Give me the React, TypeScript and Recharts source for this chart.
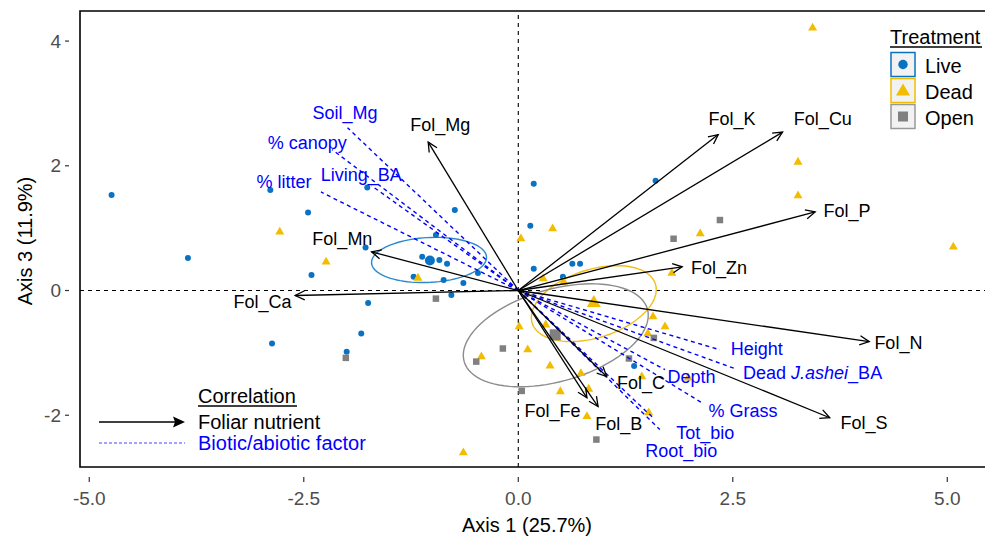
import React from "react";
import {
  ScatterChart,
  Scatter,
  XAxis,
  YAxis,
  ReferenceLine,
  ReferenceArea,
} from "recharts";

const FONT = "'Liberation Sans', Arial, Helvetica, sans-serif";

const xDomain: [number, number] = [-5.108, 5.451];
const yDomain: [number, number] = [-2.83, 4.482];
const xTicks = [-5, -2.5, 0, 2.5, 5];
const yTicks = [-2, 0, 2, 4];

// site scores (axis 1, axis 3)
const livePoints = [
  { x: -4.74, y: 1.53 }, { x: -3.85, y: 0.52 }, { x: -2.89, y: 1.61 },
  { x: -2.45, y: 1.25 }, { x: -2.41, y: 0.25 }, { x: -1.76, y: 1.65 },
  { x: -1.78, y: 0.69 }, { x: -1.75, y: -0.2 }, { x: -1.83, y: -0.69 },
  { x: -2.0, y: -0.98 }, { x: -2.87, y: -0.85 }, { x: -0.74, y: 1.29 },
  { x: -0.96, y: 0.89 }, { x: -1.12, y: 0.54 }, { x: -0.92, y: 0.49 },
  { x: -0.83, y: 0.43 }, { x: -1.22, y: 0.22 }, { x: -0.87, y: 0.17 },
  { x: -0.64, y: 0.12 }, { x: -0.47, y: 0.28 }, { x: -0.78, y: -0.07 },
  { x: 0.18, y: 1.71 }, { x: 0.14, y: 1.04 }, { x: 0.18, y: 0.35 },
  { x: 0.63, y: 0.43 }, { x: 0.72, y: 0.43 }, { x: 0.52, y: 0.22 },
  { x: 1.6, y: 1.76 }, { x: 1.35, y: -1.21 },
];
const deadPoints = [
  { x: 3.43, y: 4.21 }, { x: 3.26, y: 2.06 }, { x: 3.26, y: 1.52 },
  { x: 5.07, y: 0.7 }, { x: 2.12, y: 0.91 }, { x: 1.79, y: 0.28 },
  { x: 0.4, y: 0.99 }, { x: 0.03, y: 0.83 }, { x: 0.29, y: 0.19 },
  { x: 0.53, y: 0.14 }, { x: -2.78, y: 0.94 }, { x: -2.24, y: 0.46 },
  { x: -1.17, y: 0.2 }, { x: 0.01, y: -0.58 }, { x: 0.32, y: -0.55 },
  { x: 0.11, y: -0.95 }, { x: -0.43, y: -1.06 }, { x: 0.37, y: -1.21 },
  { x: 0.49, y: -1.62 }, { x: 0.73, y: -1.33 }, { x: 0.82, y: -1.58 },
  { x: 0.8, y: -2.02 }, { x: 1.52, y: -1.96 }, { x: 1.57, y: -0.42 },
  { x: 1.71, y: -0.58 }, { x: 1.51, y: -0.69 }, { x: 1.44, y: -1.38 },
  { x: 1.98, y: -1.4 }, { x: -0.64, y: -2.6 },
];
const openPoints = [
  { x: 1.81, y: 0.83 }, { x: 2.35, y: 1.13 }, { x: -0.96, y: -0.13 },
  { x: -2.01, y: -1.08 }, { x: -0.18, y: -0.93 }, { x: -0.49, y: -1.14 },
  { x: 0.04, y: -1.61 }, { x: 1.29, y: -1.09 }, { x: 1.58, y: -0.76 },
  { x: 0.91, y: -2.39 },
];
const liveCentroid = [{ x: -1.03, y: 0.48 }];
const deadCentroid = [{ x: 0.88, y: -0.2 }];
const openCentroid = [{ x: 0.43, y: -0.71 }];

// group ellipses: centre and two conjugate semi-axes
const ellipseCentre = [[-1.04, 0.49], [0.88, -0.21], [0.437, -0.718]];
const ellipseAxisU = [[0.67, 0.04], [0.728, 0.224], [1.078, 0.32]];
const ellipseAxisV = [[0, 0.36], [0, 0.566], [0, 0.761]];
const ellipseColors = ["#2b88cf", "#f0bf1a", "#8c8c8c"];

// foliar nutrient correlation vectors
const nutrientNames = [
  "Fol_Mg", "Fol_Mn", "Fol_Ca", "Fol_K", "Fol_Cu", "Fol_P",
  "Fol_Zn", "Fol_N", "Fol_S", "Fol_C", "Fol_Fe", "Fol_B",
];
const nutrientTips = [
  [-1.05, 2.38], [-1.71, 0.62], [-2.6, -0.08], [2.33, 2.5], [3.08, 2.54], [3.46, 1.26],
  [1.91, 0.38], [4.09, -0.82], [3.63, -2.04], [1.03, -1.38], [0.8, -1.72], [0.93, -1.86],
];
const nutrientLabelAt = [
  [-0.91, 2.65], [-2.05, 0.83], [-2.98, -0.18], [2.49, 2.75], [3.55, 2.75], [3.83, 1.28],
  [2.34, 0.36], [4.43, -0.84], [4.03, -2.12], [1.43, -1.48], [0.4, -1.94], [1.17, -2.14],
];

// biotic / abiotic factor vectors
const factorNames = [
  "Soil_Mg", "% canopy", "Living_BA", "% litter", "Height",
  "Dead J.ashei_BA", "Depth", "% Grass", "Tot_bio", "Root_bio",
];
const factorTips = [
  [-1.99, 2.61], [-2.17, 2.26], [-1.71, 1.68], [-2.3, 1.58], [2.35, -0.95],
  [2.52, -1.25], [1.71, -1.27], [2.14, -1.8], [1.57, -2.04], [1.65, -2.23],
];
const factorLabelAt = [
  [-2.02, 2.85], [-2.46, 2.37], [-1.83, 1.85], [-2.73, 1.74], [2.78, -0.93],
  [3.43, -1.32], [2.02, -1.38], [2.62, -1.93], [2.18, -2.28], [1.9, -2.58],
];

const LIVE = "#0a72c2";
const DEAD = "#f2bd00";
const OPEN = "#808080";
const FACTOR = "#0000ff";

const ellipseData = ellipseCentre.map((c, k) => {
  const pts: { x: number; y: number }[] = [];
  for (let i = 0; i <= 90; i++) {
    const t = (2 * Math.PI * i) / 90;
    pts.push({
      x: c[0] + ellipseAxisU[k][0] * Math.cos(t) + ellipseAxisV[k][0] * Math.sin(t),
      y: c[1] + ellipseAxisU[k][1] * Math.cos(t) + ellipseAxisV[k][1] * Math.sin(t),
    });
  }
  return pts;
});

const nutrientLabels = nutrientNames.map((name, i) => ({
  x: nutrientLabelAt[i][0],
  y: nutrientLabelAt[i][1],
  name,
}));
const factorLabels = factorNames.map((name, i) => ({
  x: factorLabelAt[i][0],
  y: factorLabelAt[i][1],
  name,
}));

const noMark = () => <g />;

const dot = (color: string, r: number) => (p: any) =>
  <circle cx={p.cx} cy={p.cy} r={r} fill={color} />;
const tri = (color: string, s: number) => (p: any) => {
  const h = s * 0.866;
  return (
    <polygon
      points={`${p.cx},${p.cy - (h * 2) / 3} ${p.cx - s / 2},${p.cy + h / 3} ${p.cx + s / 2},${p.cy + h / 3}`}
      fill={color}
    />
  );
};
const sq = (color: string, s: number) => (p: any) =>
  <rect x={p.cx - s / 2} y={p.cy - s / 2} width={s} height={s} fill={color} />;

const vectorLine = (stroke: string, dash?: string, head?: boolean) =>
  function VectorLine(props: any) {
    const pts = props.points || [];
    if (pts.length < 2) return <g />;
    const a = pts[0];
    const b = pts[pts.length - 1];
    const ang = Math.atan2(b.y - a.y, b.x - a.x);
    const L = 10.5;
    const w = Math.PI / 7;
    const h1 = `${b.x - L * Math.cos(ang - w)},${b.y - L * Math.sin(ang - w)}`;
    const h2 = `${b.x - L * Math.cos(ang + w)},${b.y - L * Math.sin(ang + w)}`;
    return (
      <g>
        <line x1={a.x} y1={a.y} x2={b.x} y2={b.y} stroke={stroke} strokeWidth={dash ? 1.4 : 1.3} strokeDasharray={dash} />
        {head && (
          <polyline points={`${h1} ${b.x},${b.y} ${h2}`} fill="none" stroke={stroke} strokeWidth={1.3} />
        )}
      </g>
    );
  };

const textMark = (color: string) => (p: any) => {
  const name: string = p.payload.name;
  const parts = name.split("J.ashei");
  return (
    <text
      x={p.cx}
      y={p.cy}
      textAnchor="middle"
      dominantBaseline="central"
      fill={color}
      fontSize={18}
      fontFamily={FONT}
    >
      {parts.length > 1 ? (
        <>
          {parts[0]}
          <tspan fontStyle="italic">J.ashei</tspan>
          {parts[1]}
        </>
      ) : (
        name
      )}
    </text>
  );
};

const XTick = (p: any) => (
  <g>
    <line x1={p.x} x2={p.x} y1={p.y + 10} y2={p.y + 15} stroke="#333" strokeWidth={1.2} />
    <text x={p.x} y={p.y + 38} textAnchor="middle" fill="#4d4d4d" fontSize={19} fontFamily={FONT}>
      {Number(p.payload.value).toFixed(1)}
    </text>
  </g>
);

const YTick = (p: any) => (
  <g>
    <line x1={p.x - 15} x2={p.x - 11} y1={p.y} y2={p.y} stroke="#333" strokeWidth={1.2} />
    <text x={p.x - 19} y={p.y} textAnchor="end" dominantBaseline="central" fill="#4d4d4d" fontSize={19} fontFamily={FONT}>
      {p.payload.value}
    </text>
  </g>
);

const Overlay = () => (
  <svg
    width={985}
    height={539}
    style={{ position: "absolute", left: 0, top: 0, pointerEvents: "none" }}
    fontFamily={FONT}
  >
    <text x={527} y={532} textAnchor="middle" fontSize={20} fill="#000">
      Axis 1 (25.7%)
    </text>
    <text transform="translate(32,241) rotate(-90)" textAnchor="middle" fontSize={20} fill="#000">
      Axis 3 (11.9%)
    </text>

    <text x={890} y={44} fontSize={20} fill="#000">Treatment</text>
    <line x1={890} x2={982} y1={47} y2={47} stroke="#000" strokeWidth={1.3} />
    <rect x={891} y={52.5} width={24} height={24} fill="#f2f2f2" stroke={LIVE} strokeWidth={1.5} />
    <circle cx={903} cy={64.5} r={4.7} fill={LIVE} />
    <rect x={891} y={78.5} width={24} height={24} fill="#f2f2f2" stroke={DEAD} strokeWidth={1.5} />
    <polygon points="903,83.5 896,95.5 910,95.5" fill={DEAD} />
    <rect x={891} y={104.5} width={24} height={24} fill="#f2f2f2" stroke="#999" strokeWidth={1.5} />
    <rect x={898} y={111.5} width={10} height={10} fill={OPEN} />
    <text x={925} y={73} fontSize={20} fill="#000">Live</text>
    <text x={925} y={99} fontSize={20} fill="#000">Dead</text>
    <text x={925} y={125} fontSize={20} fill="#000">Open</text>

    <text x={198} y={403} fontSize={20} fill="#000">Correlation</text>
    <line x1={198} x2={297} y1={406} y2={406} stroke="#000" strokeWidth={1.3} />
    <line x1={99} x2={176} y1={422} y2={422} stroke="#000" strokeWidth={1.4} />
    <polygon points="185,422 173,416.5 175,422 173,427.5" fill="#000" />
    <text x={198} y={429} fontSize={20} fill="#000">Foliar nutrient</text>
    <line x1={99} x2={185} y1={443} y2={443} stroke="#4444ff" strokeWidth={1.2} strokeDasharray="3 2" />
    <text x={198} y={450} fontSize={20} fill={FACTOR}>Biotic/abiotic factor</text>
  </svg>
);

export default function App() {
  return (
    <div style={{ position: "relative", width: 985, height: 539, overflow: "hidden", background: "#fff" }}>
      <style>{"body{margin:0;overflow:hidden}"}</style>
      <ScatterChart width={987} height={539} margin={{ top: 11, right: 1, bottom: 0, left: 0 }}>
        <XAxis
          type="number"
          dataKey="x"
          domain={xDomain}
          ticks={xTicks}
          allowDataOverflow
          height={72}
          tickSize={0}
          tickMargin={0}
          tickLine={false}
          axisLine={false}
          tick={XTick}
          interval={0}
        />
        <YAxis
          type="number"
          dataKey="y"
          domain={yDomain}
          ticks={yTicks}
          allowDataOverflow
          width={80}
          tickSize={0}
          tickMargin={0}
          tickLine={false}
          axisLine={false}
          tick={YTick}
          interval={0}
        />
        <ReferenceLine x={0} stroke="#000" strokeWidth={1.1} strokeDasharray="4 4" />
        <ReferenceLine y={0} stroke="#000" strokeWidth={1.1} strokeDasharray="4 4" />

        {ellipseData.map((pts, k) => (
          <Scatter
            key={`ell-${k}`}
            data={pts}
            line={{ stroke: ellipseColors[k], strokeWidth: 1.4 }}
            shape={noMark}
            isAnimationActive={false}
          />
        ))}

        <Scatter data={livePoints} shape={dot(LIVE, 3)} isAnimationActive={false} />
        <Scatter data={deadPoints} shape={tri(DEAD, 9)} isAnimationActive={false} />
        <Scatter data={openPoints} shape={sq(OPEN, 6.5)} isAnimationActive={false} />
        <Scatter data={liveCentroid} shape={dot(LIVE, 5)} isAnimationActive={false} />
        <Scatter data={deadCentroid} shape={tri(DEAD, 14)} isAnimationActive={false} />
        <Scatter data={openCentroid} shape={sq(OPEN, 11)} isAnimationActive={false} />

        {factorTips.map((t, i) => (
          <Scatter
            key={`fac-${i}`}
            data={[{ x: 0, y: 0 }, { x: t[0], y: t[1] }]}
            line={vectorLine(FACTOR, "4 3.5", false)}
            shape={noMark}
            isAnimationActive={false}
          />
        ))}
        {nutrientTips.map((t, i) => (
          <Scatter
            key={`nut-${i}`}
            data={[{ x: 0, y: 0 }, { x: t[0], y: t[1] }]}
            line={vectorLine("#000", undefined, true)}
            shape={noMark}
            isAnimationActive={false}
          />
        ))}

        <Scatter data={nutrientLabels} shape={textMark("#000")} isAnimationActive={false} />
        <Scatter data={factorLabels} shape={textMark(FACTOR)} isAnimationActive={false} />

        <ReferenceArea
          x1={xDomain[0]}
          x2={xDomain[1]}
          y1={yDomain[0]}
          y2={yDomain[1]}
          fill="none"
          fillOpacity={0}
          stroke="#000"
          strokeWidth={1.6}
          ifOverflow="visible"
        />
      </ScatterChart>
      <Overlay />
    </div>
  );
}
